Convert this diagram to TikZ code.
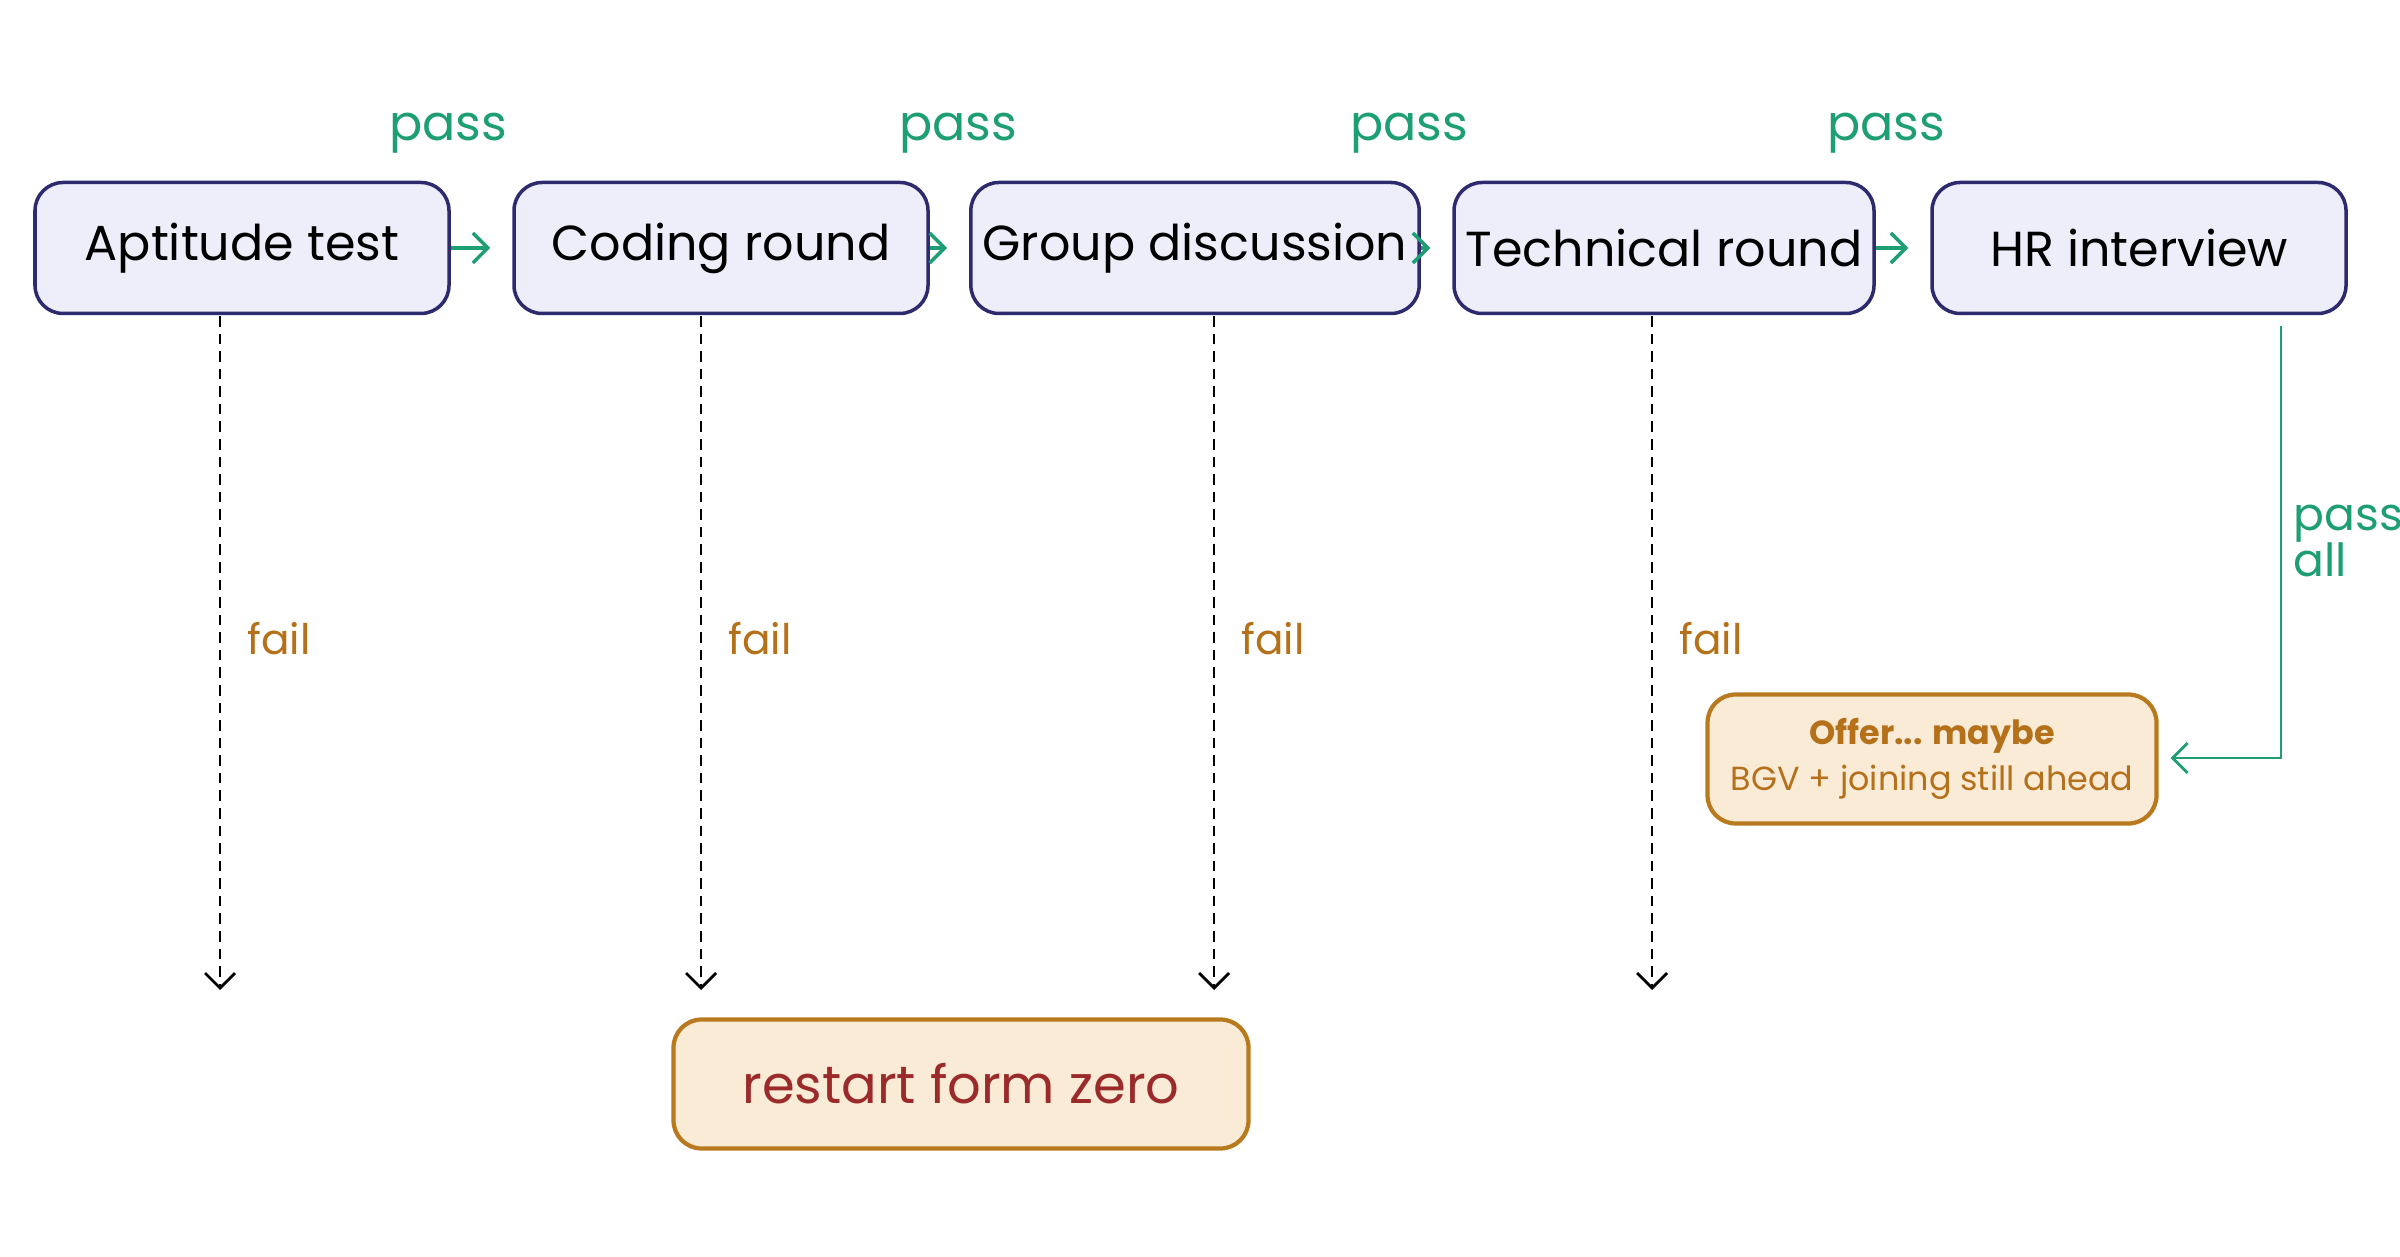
\documentclass[tikz,border=0pt]{standalone}
\usepackage{fontspec}
\setmainfont{Poppins}
\usetikzlibrary{positioning, arrows.meta}
\definecolor{stageFill}{HTML}{EEEEFB}
\definecolor{stageLine}{HTML}{2E2A6E}
\definecolor{passGreen}{HTML}{1E9E74}
\definecolor{failOrange}{HTML}{B5701A}
\definecolor{endFill}{HTML}{FAEBD7}
\definecolor{endLine}{HTML}{B8791F}
\definecolor{endText}{HTML}{9B2A2A}
\begin{document}
\begin{tikzpicture}[
    stage/.style={draw=stageLine, fill=stageFill, line width=1pt, rounded corners=8pt,
        minimum width=4.14cm, minimum height=1.31cm, font=\fontsize{14}{16}\selectfont},
    final/.style={draw=endLine, fill=endFill, line width=1.2pt, rounded corners=8pt},
    passarrow/.style={-{Straight Barb[length=1.5mm, width=3mm]}, passGreen, line width=1pt},
    failarrow/.style={-{Straight Barb[length=1.5mm, width=3mm]}, densely dashed, line width=0.8pt},
    passlbl/.style={passGreen, font=\fontsize{14}{16}\selectfont},
    faillbl/.style={failOrange, font=\fontsize{12}{14}\selectfont, right}
]
    \useasboundingbox (0,0) rectangle (24,12.56);

    % Stages
    \node[stage] (apt) at (2.42,10.08) {Aptitude test};
    \node[stage] (code) at (7.21,10.08) {Coding round};
    \node[stage] (gd) at (11.95,10.08) {Group discussion};
    \node[stage] (tech) at (16.64,10.08) {Technical round};
    \node[stage] (hr) at (21.39,10.08) {HR interview};

    % Pass labels
    \node[passlbl] (p1) at (4.48,11.23) {pass};
    \node[passlbl] (p2) at (9.58,11.23) {pass};
    \node[passlbl] (p3) at (14.09,11.23) {pass};
    \node[passlbl] (p4) at (18.86,11.23) {pass};

    % Pass arrows
    \foreach \a/\b in {apt/code, code/gd, gd/tech, tech/hr}
        \draw[passarrow] (\a.east) -- ([xshift=-0.22cm]\b.west);

    % Fail lines
    \foreach \n/\x in {apt/2.20, code/7.01, gd/12.14, tech/16.52} {
        \coordinate (\n-top) at (\x,9.40);
        \coordinate (\n-bot) at (\x,2.66);
        \draw[failarrow] (\n-top) -- (\n-bot);
        \node[faillbl] at (\x+0.15,6.17) {fail};
    }

    % Endings
    \node[final, minimum width=5.75cm, minimum height=1.29cm, text=endText,
        font=\fontsize{15}{17}\selectfont] (restart) at (9.61,1.72) {restart form zero};
    \node[final, minimum width=4.49cm, minimum height=1.29cm, text=failOrange,
        align=center, font=\fontsize{9.5}{13}\selectfont] (offer) at (19.32,4.97)
        {\textbf{Offer... maybe}\\BGV + joining still ahead};

    % Pass all
    \coordinate (hr-out) at (22.81,9.30);
    \coordinate (bend) at (22.81,4.98);
    \draw[passarrow, line width=0.8pt] (hr-out) -- (bend) -- ([xshift=0.12cm]offer.east |- bend);
    \node[passlbl, right, align=left, font=\fontsize{13}{13}\selectfont] (pall) at (22.81,7.15) {pass\\all};
\end{tikzpicture}
\end{document}
